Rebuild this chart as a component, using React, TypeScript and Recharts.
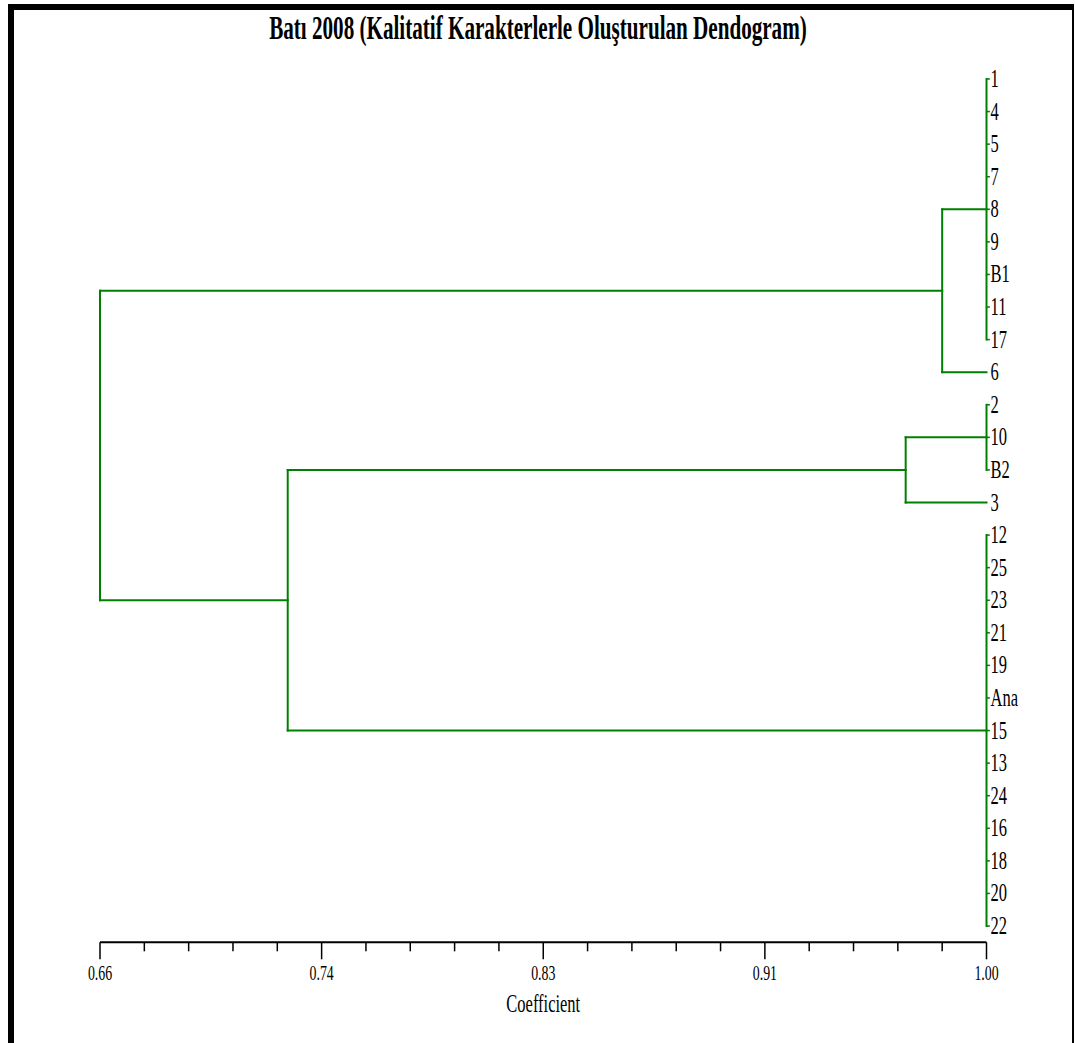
import { ComposedChart, XAxis, YAxis, Scatter, ReferenceLine } from 'recharts';

// Leaf order as printed down the right side of the dendrogram
const leaves = ['1', '4', '5', '7', '8', '9', 'B1', '11', '17', '6', '2', '10', 'B2', '3',
  '12', '25', '23', '21', '19', 'Ana', '15', '13', '24', '16', '18', '20', '22'];

// Clusters, in merge order, with the similarity coefficient they join at
const clusterIds = ['A', 'A6', 'B', 'B3', 'C', 'BC', 'root'];
const clusterMembers = [
  ['1', '4', '5', '7', '8', '9', 'B1', '11', '17'],
  ['A', '6'],
  ['2', '10', 'B2'],
  ['B', '3'],
  ['12', '25', '23', '21', '19', 'Ana', '15', '13', '24', '16', '18', '20', '22'],
  ['B3', 'C'],
  ['A6', 'BC'],
];
const clusterLevels = [1.0, 0.983, 1.0, 0.969, 1.0, 0.732, 0.66];

const majorTicks = [0.66, 0.745, 0.83, 0.915, 1.0];
const majorTickLabels = ['0.66', '0.74', '0.83', '0.91', '1.00'];

const GREEN = '#008000';
const FONT = '"Liberation Serif", "Times New Roman", serif';

type Pt = { x: number; y: number };

function buildSegments() {
  const pos = new Map<string, Pt>();
  leaves.forEach((n, i) => pos.set(n, { x: 1.0, y: i }));
  const segs: [Pt, Pt][] = [];
  const stubs: [Pt, Pt][] = [];
  clusterIds.forEach((id, k) => {
    const h = clusterLevels[k];
    const kids = clusterMembers[k].map(n => pos.get(n)!);
    kids.forEach(p => {
      if (p.x !== h) segs.push([{ x: p.x, y: p.y }, { x: h, y: p.y }]);
    });
    const ys = kids.map(p => p.y);
    const y0 = Math.min(...ys);
    const y1 = Math.max(...ys);
    segs.push([{ x: h, y: y0 }, { x: h, y: y1 }]);
    // little nubs marking each leaf on a tied (1.00) cluster
    if (kids.length > 2 && h === 1.0) {
      kids.forEach(p => stubs.push([{ x: 1.0, y: p.y }, { x: 1.0013, y: p.y }]));
    }
    pos.set(id, { x: h, y: (y0 + y1) / 2 });
  });
  return { segs, stubs };
}

// 4 minor divisions between each labelled tick
function buildTicks() {
  const out: number[] = [];
  for (let i = 0; i < majorTicks.length - 1; i++) {
    const a = majorTicks[i];
    const step = (majorTicks[i + 1] - a) / 5;
    for (let j = 0; j < 5; j++) out.push(a + step * j);
  }
  out.push(majorTicks[majorTicks.length - 1]);
  return out;
}

function CoefTick({ x, y, index }: any) {
  const major = index % 5 === 0;
  return (
    <g>
      <line x1={x} y1={y} x2={x} y2={y + (major ? 17 : 9)} stroke="#000" strokeWidth={1.5} />
      {major && (
        <text
          transform={`translate(${x},${y + 38}) scale(0.66,1)`}
          textAnchor="middle"
          fontFamily={FONT}
          fontSize={21}
          fill="#000"
        >
          {majorTickLabels[index / 5]}
        </text>
      )}
    </g>
  );
}

function LeafTick({ x, y, payload }: any) {
  return (
    <text
      transform={`translate(${x},${y + 8}) scale(0.66,1)`}
      textAnchor="start"
      fontFamily={FONT}
      fontSize={25}
      fill="#000"
    >
      {leaves[payload.value]}
    </text>
  );
}

function CoefLabel({ viewBox }: any) {
  const { x, y, width } = viewBox;
  return (
    <text
      transform={`translate(${x + width / 2},${y + 70}) scale(0.66,1)`}
      textAnchor="middle"
      fontFamily={FONT}
      fontSize={25}
      fill="#000"
    >
      Coefficient
    </text>
  );
}

export default function App() {
  const { segs, stubs } = buildSegments();
  const leafPoints = leaves.map((_, i) => ({ x: 1.0, y: i }));
  const xTicks = buildTicks();

  return (
    <div
      style={{
        position: 'absolute',
        left: 8,
        top: 4,
        width: 1066,
        height: 1039,
        boxSizing: 'border-box',
        borderLeft: '6px solid #000',
        borderTop: '6px solid #000',
        borderRight: '2px solid #000',
        background: '#fff',
      }}
    >
      <div style={{ position: 'absolute', left: 0, top: 0 }}>
        <ComposedChart
          width={1058}
          height={1033}
          margin={{ top: 52.7, right: 25.5, bottom: 0, left: 86 }}
        >
          <XAxis
            type="number"
            dataKey="x"
            domain={[0.66, 1.0]}
            ticks={xTicks}
            interval={0}
            height={100.7}
            tickSize={0}
            tickMargin={0}
            tickLine={false}
            axisLine={{ stroke: '#000', strokeWidth: 2 }}
            tick={<CoefTick />}
            label={<CoefLabel />}
          />
          <YAxis
            type="number"
            dataKey="y"
            orientation="right"
            reversed
            domain={[-0.5, 26.5]}
            ticks={leaves.map((_, i) => i)}
            interval={0}
            width={60}
            tickSize={0}
            tickMargin={4}
            tickLine={false}
            axisLine={false}
            tick={<LeafTick />}
          />
          <Scatter data={leafPoints} fill="none" shape={() => <g />} isAnimationActive={false} />
          {segs.map((s, i) => (
            <ReferenceLine
              key={`s${i}`}
              segment={s}
              stroke={GREEN}
              strokeWidth={2}
              strokeLinecap="square"
              ifOverflow="visible"
            />
          ))}
          {stubs.map((s, i) => (
            <ReferenceLine
              key={`t${i}`}
              segment={s}
              stroke={GREEN}
              strokeWidth={1.5}
              ifOverflow="visible"
            />
          ))}
        </ComposedChart>
      </div>
      <svg
        width={1058}
        height={60}
        style={{ position: 'absolute', left: 0, top: 0 }}
      >
        <text
          transform="translate(524,28.5) scale(0.64,1)"
          textAnchor="middle"
          fontFamily={FONT}
          fontWeight="bold"
          fontSize={33}
          fill="#000"
        >
          Batı 2008 (Kalitatif Karakterlerle Oluşturulan Dendogram)
        </text>
      </svg>
    </div>
  );
}
